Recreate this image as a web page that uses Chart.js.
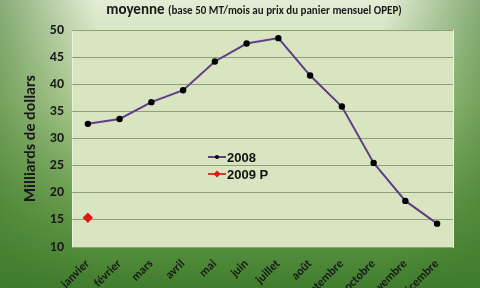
<!DOCTYPE html>
<html>
<head>
<meta charset="utf-8">
<script src="https://cdn.jsdelivr.net/npm/chart.js@4"></script>
<style>
    html, body { margin: 0; padding: 0; overflow: hidden; }
    #wrap { width: 480px; height: 288px; }
</style>
</head>
<body>
<div id="wrap"><canvas id="chart" width="480" height="288"></canvas></div>
<script>
// Data
const months = ['janvier', 'février', 'mars', 'avril', 'mai', 'juin', 'juillet',
    'août', 'septembre', 'octobre', 'novembre', 'décembre'];
const values2008 = [32.7, 33.6, 36.7, 38.9, 44.2, 47.5, 48.5, 41.6, 35.9, 25.5, 18.5, 14.3];
const values2009 = [15.4, null, null, null, null, null, null, null, null, null, null, null];
const yTicks = { min: 10, max: 50, step: 5 };
const titleMain = 'moyenne';
const titleSub = '(base 50 MT/mois au prix du panier mensuel OPEP)';
const yTitle = 'Milliards de dollars';

const FONT = 'Calibri, Carlito, Lato, "DejaVu Sans", sans-serif';

// green gradient background + plot fill
const backgroundPlugin = {
    id: 'bg',
    beforeDraw(chart) {
        const { ctx, width, height, chartArea } = chart;
        ctx.save();
        let g = ctx.createLinearGradient(0, 0, 0, height);
        g.addColorStop(0, '#e3edd6');
        g.addColorStop(0.35, '#b9d49c');
        g.addColorStop(0.7, '#6ea152');
        g.addColorStop(1, '#3f7d2c');
        ctx.fillStyle = g;
        ctx.fillRect(0, 0, width, height);
        // darker sides
        g = ctx.createLinearGradient(0, 0, width, 0);
        g.addColorStop(0, 'rgba(60,120,40,0.55)');
        g.addColorStop(0.2, 'rgba(60,120,40,0)');
        g.addColorStop(0.8, 'rgba(60,120,40,0)');
        g.addColorStop(1, 'rgba(60,120,40,0.55)');
        ctx.fillStyle = g;
        ctx.fillRect(0, 0, width, height);
        // plot area
        ctx.fillStyle = '#d9e5c0';
        ctx.fillRect(chartArea.left, chartArea.top,
            chartArea.right - chartArea.left, chartArea.bottom - chartArea.top);
        ctx.strokeStyle = '#eef4e2';
        ctx.lineWidth = 1;
        ctx.strokeRect(chartArea.left + 0.5, chartArea.top + 0.5,
            chartArea.right - chartArea.left, chartArea.bottom - chartArea.top);
        ctx.restore();
    }
};

// title with two font sizes
const titlePlugin = {
    id: 'twoPartTitle',
    afterDraw(chart) {
        const ctx = chart.ctx;
        ctx.save();
        ctx.fillStyle = '#1a1a1a';
        ctx.textBaseline = 'middle';
        const f1 = 'bold 15px ' + FONT;
        const f2 = 'bold 11px ' + FONT;
        ctx.font = f1;
        const w1 = ctx.measureText(titleMain + ' ').width;
        ctx.font = f2;
        const w2 = ctx.measureText(titleSub).width;
        let x = 254 - (w1 + w2) / 2;
        ctx.font = f1;
        ctx.fillText(titleMain + ' ', x, 10);
        ctx.font = f2;
        ctx.fillText(titleSub, x + w1, 11);
        ctx.restore();
    }
};

// legend placed inside the plot
const legendPlugin = {
    id: 'innerLegend',
    afterDatasetsDraw(chart) {
        const ctx = chart.ctx;
        ctx.save();
        chart.data.datasets.forEach((ds, i) => {
            const y = 157 + i * 17;
            ctx.strokeStyle = ds.borderColor;
            ctx.lineWidth = 2;
            ctx.beginPath();
            ctx.moveTo(208, y);
            ctx.lineTo(226, y);
            ctx.stroke();
            ctx.fillStyle = ds.pointBackgroundColor;
            ctx.beginPath();
            if (ds.pointStyle === 'rectRot') {
                ctx.moveTo(217, y - 3.5);
                ctx.lineTo(220.5, y);
                ctx.lineTo(217, y + 3.5);
                ctx.lineTo(213.5, y);
                ctx.closePath();
            } else {
                ctx.arc(217, y, 2, 0, Math.PI * 2);
            }
            ctx.fill();
            ctx.fillStyle = '#111';
            ctx.font = 'bold 13px "Liberation Sans", Arial, sans-serif';
            ctx.textBaseline = 'middle';
            ctx.fillText(ds.label, 227, y + 1);
        });
        ctx.restore();
    }
};

const ctx = document.getElementById('chart').getContext('2d');
new Chart(ctx, {
    type: 'line',
    data: {
        labels: months,
        datasets: [
            {
                label: '2008',
                data: values2008,
                borderColor: '#5f3f86',
                borderWidth: 2,
                pointBackgroundColor: '#000000',
                pointBorderColor: '#000000',
                pointRadius: 2.2,
                pointStyle: 'circle',
                tension: 0
            },
            {
                label: '2009 P',
                data: values2009,
                borderColor: '#d63a2a',
                borderWidth: 2,
                pointBackgroundColor: '#e01818',
                pointBorderColor: '#e01818',
                pointRadius: 3.8,
                pointStyle: 'rectRot',
                showLine: false
            }
        ]
    },
    options: {
        responsive: false,
        animation: false,
        layout: { padding: { top: 30, right: 27, left: 0, bottom: 0 } },
        plugins: {
            legend: { display: false },
            tooltip: { enabled: false }
        },
        scales: {
            x: {
                offset: true,
                grid: { display: false },
                border: { display: false },
                ticks: {
                    color: '#1a1a1a',
                    font: { family: FONT, size: 12, weight: 'bold' },
                    minRotation: 45,
                    maxRotation: 45,
                    autoSkip: false,
                    padding: 2
                },
                afterFit(scale) {
                    scale.height = 41;
                    scale.paddingLeft = 0;
                    scale.paddingRight = 0;
                }
            },
            y: {
                min: yTicks.min,
                max: yTicks.max,
                ticks: {
                    stepSize: yTicks.step,
                    color: '#1a1a1a',
                    font: { family: FONT, size: 14, weight: 'bold' },
                    padding: 8
                },
                grid: { color: '#8f9f78', lineWidth: 1, drawTicks: false },
                border: { display: false },
                title: {
                    display: true,
                    text: yTitle,
                    color: '#1a1a1a',
                    font: { family: FONT, size: 16, weight: 'bold' },
                    padding: { top: 21, bottom: 0 }
                },
                afterFit(scale) {
                    scale.width = 72;
                    scale.paddingTop = 0;
                    scale.paddingBottom = 0;
                }
            }
        }
    },
    plugins: [backgroundPlugin, titlePlugin, legendPlugin]
});
</script>
</body>
</html>
